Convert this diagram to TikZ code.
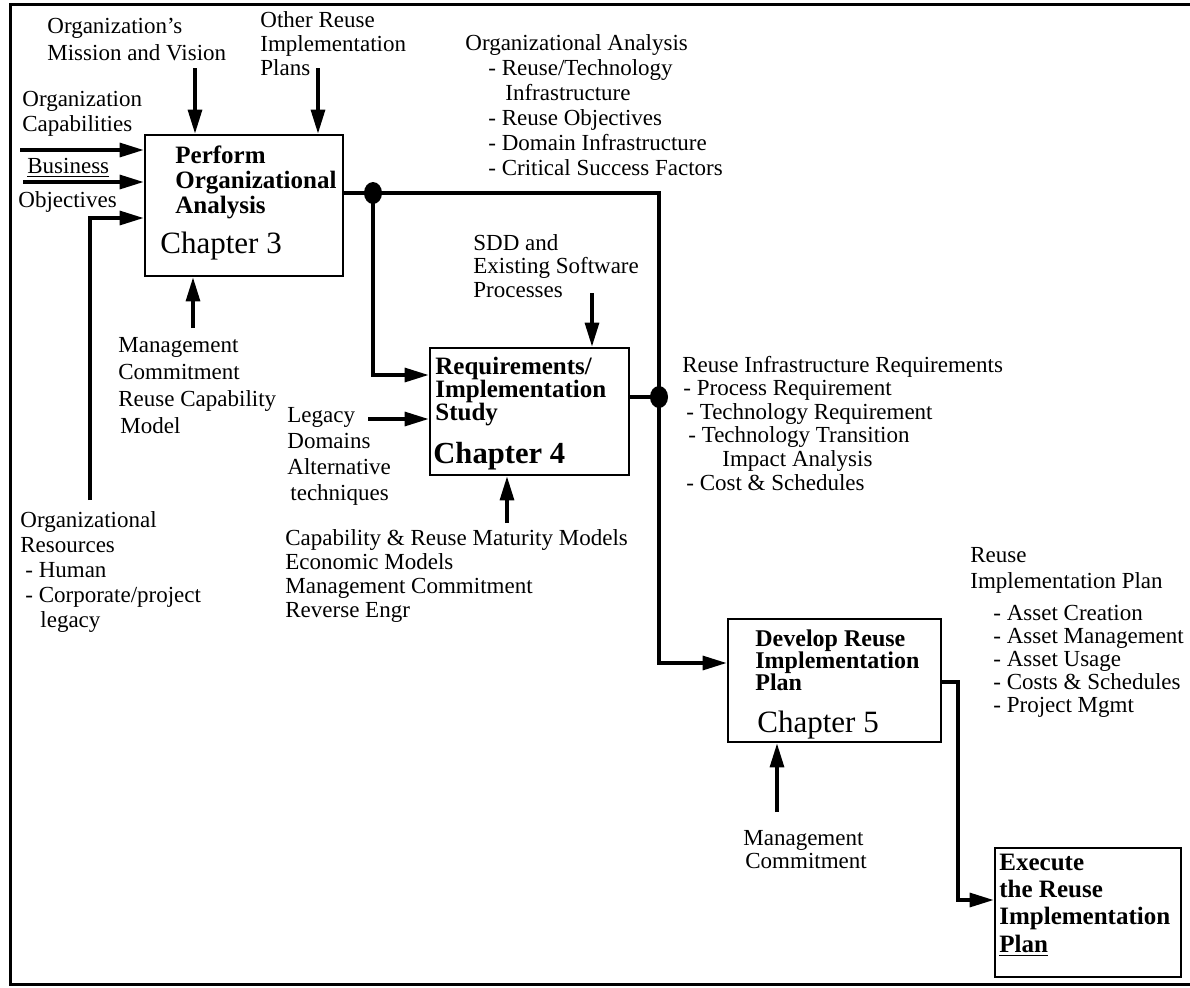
\documentclass[tikz,border=0pt]{standalone}
\usepackage{fontspec}
\setmainfont{Liberation Serif}
\usetikzlibrary{arrows.meta,shapes.geometric}
\newcommand\mlines[1]{\vtop{\lineskiplimit=-50pt\lineskip=0pt\halign{##\hfil\cr#1\crcr}}}
\tikzset{
  lbl/.style={anchor=base west, inner sep=0pt, font=\fontsize{11.5}{#1}\selectfont},
  lbl/.default=12.5pt,
  ttl/.style={anchor=base west, inner sep=0pt, font=\bfseries\fontsize{12.5}{#1}\selectfont},
  ttl/.default=12.5pt,
  chap/.style={anchor=base west, inner sep=0pt, font=\fontsize{15.5}{18}\selectfont},
  box/.style={draw, rectangle, line width=1.4pt, inner sep=0pt},
  arr/.style={line width=1.6pt, -{Triangle[length=12pt,width=7pt]}},
  wire/.style={line width=1.6pt},
  dot/.style={ellipse, fill, inner sep=0pt, minimum width=9pt, minimum height=11pt},
}
\begin{document}
\begin{tikzpicture}[x=0.5pt,y=-0.5pt]
\useasboundingbox (0,0) rectangle (1190,987);
% frame
\draw[line width=1.5pt] (1190,4) -- (10,4) -- (10,984) -- (1190,984);

% boxes
\node[box, minimum width=99pt, minimum height=70.5pt] (b1) at (244,205.5) {};
\node[box, minimum width=99.5pt, minimum height=63.5pt] (b2) at (529.5,411.5) {};
\node[box, minimum width=106.5pt, minimum height=61.5pt] (b3) at (834.5,680.5) {};
\node[box, minimum width=93pt, minimum height=64.5pt] (b4) at (1088,912.5) {};

% box texts
\node[ttl] (t1) at (175,163) {\mlines{Perform\cr Organizational\cr Analysis}};
\node[chap] (c1) at (160,253) {Chapter 3};
\node[ttl=11.6pt] (t2) at (435,374) {\mlines{Requirements/\cr Implementation\cr Study}};
\node[chap, font=\bfseries\fontsize{15.3}{18}\selectfont] (c2) at (433,463) {Chapter 4};
\node[ttl=11.2pt, font=\bfseries\fontsize{12}{11.2}\selectfont] (t3) at (755,646) {\mlines{Develop Reuse\cr Implementation\cr Plan}};
\node[chap] (c3) at (757,732) {Chapter 5};
\node[ttl=13.7pt] (t4) at (999,870) {\mlines{Execute\cr the Reuse\cr Implementation\cr \underline{Plan}}};

% labels
\node[lbl=13.5pt] (mission) at (47,33) {\mlines{Organization’s\cr Mission and Vision}};
\node[lbl=12pt] (other) at (260,27) {\mlines{Other Reuse\cr Implementation\cr Plans}};
\node[lbl] (capab) at (22,106) {\mlines{Organization\cr Capabilities}};
\node[lbl] (busin) at (27,173) {\underline{Business}};
\node[lbl] (objec) at (18,207) {Objectives};
\node[lbl] (oa) at (465,50) {\mlines{Organizational Analysis\cr
  \kern11.5pt- Reuse/Technology\cr
  \kern20pt Infrastructure\cr
  \kern11.5pt- Reuse Objectives\cr
  \kern11.5pt- Domain Infrastructure\cr
  \kern11.5pt- Critical Success Factors}};
\node[lbl=13.5pt] (mgmt1) at (118,352) {\mlines{Management\cr Commitment\cr Reuse Capability\cr \kern1pt Model}};
\node[lbl=13pt] (legacy) at (287,422) {\mlines{Legacy\cr Domains\cr Alternative\cr \kern1.5pt techniques}};
\node[lbl=12.6pt] (res) at (20,527) {\mlines{Organizational\cr Resources\cr
  \kern2.5pt- Human\cr
  \kern2.5pt- Corporate/project\cr
  \kern10pt legacy}};
\node[lbl=11.75pt] (sdd) at (473,250) {\mlines{SDD and\cr Existing Software\cr Processes}};
\node[lbl=12pt] (capm) at (285,545) {\mlines{Capability \& Reuse Maturity Models\cr Economic Models\cr Management Commitment\cr Reverse Engr}};
\node[lbl=11.8pt] (rir) at (682,372) {\mlines{Reuse Infrastructure Requirements\cr
  \kern0.5pt- Process Requirement\cr
  \kern2pt- Technology Requirement\cr
  \kern3pt- Technology Transition\cr
  \kern20pt Impact Analysis\cr
  \kern2pt- Cost \& Schedules}};
\node[lbl=13pt] (rip) at (970,562) {\mlines{Reuse\cr Implementation Plan}};
\node[lbl=11.6pt] (ripl) at (993,620) {\mlines{- Asset Creation\cr - Asset Management\cr - Asset Usage\cr - Costs \& Schedules\cr - Project Mgmt}};
\node[lbl=11.5pt] (mgmt3) at (743,845) {\mlines{Management\cr \kern1pt Commitment}};

% connectors into box 1
\coordinate (mv) at (195,68);
\draw[arr] (mv) -- (mv |- b1.north);
\coordinate (orp) at (318,68);
\draw[arr] (orp) -- (orp |- b1.north);
\coordinate (oc) at (20,150);
\draw[arr] (oc) -- (oc -| b1.west);
\coordinate (bo) at (23,182);
\draw[arr] (bo) -- (bo -| b1.west);
\coordinate (orr) at (90,500);
\coordinate (ob) at (90,218);
\draw[arr] (orr) -- (ob) -- (ob -| b1.west);
\coordinate (mc) at (193,328);
\draw[arr] (mc) -- (mc |- b1.south);

% junctions and flow
\node[dot] (j1) at (373,193) {};
\node[dot] (j2) at (659,397) {};
\draw[wire] (j1 -| b1.east) -- (j1.center) -| (j2.center);
\draw[wire] (j2 -| b2.east) -- (j2.center);
\coordinate (k2) at (373,375);
\draw[arr] (j1.center) -- (k2) -- (k2 -| b2.west);
\coordinate (k3) at (659,663);
\draw[arr] (j2.center) -- (k3) -- (k3 -| b3.west);

% connectors into box 2
\coordinate (lg) at (368,419);
\draw[arr] (lg) -- (lg -| b2.west);
\coordinate (sd) at (592,293);
\draw[arr] (sd) -- (sd |- b2.north);
\coordinate (cm) at (507,523);
\draw[arr] (cm) -- (cm |- b2.south);

% box 3 and 4
\coordinate (mc3) at (777,812);
\draw[arr] (mc3) -- (mc3 |- b3.south);
\coordinate (o3) at (958,682);
\coordinate (k4) at (958,900);
\draw[arr] (o3 -| b3.east) -- (o3) -- (k4) -- (k4 -| b4.west);
\end{tikzpicture}
\end{document}
